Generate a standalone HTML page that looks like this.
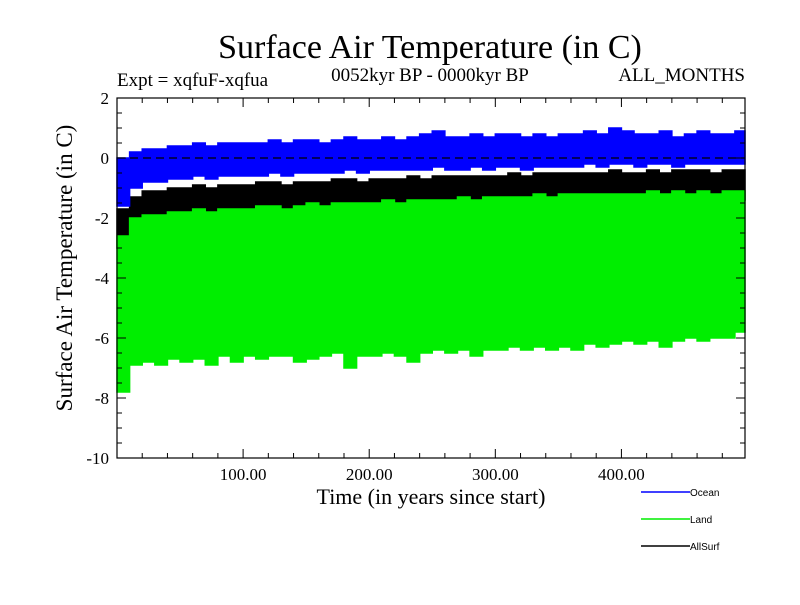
<!DOCTYPE html>
<html><head><meta charset="utf-8"><style>
body{margin:0;background:#fff;}
svg text{font-family:"Liberation Serif",serif;}
</style></head><body>
<svg width="800" height="600" id="c">
<text x="430" y="58" font-size="34" text-anchor="middle">Surface Air Temperature (in C)</text>
<text x="117" y="86" font-size="19">Expt = xqfuF-xqfua</text>
<text x="430" y="81" font-size="19" text-anchor="middle">0052kyr BP - 0000kyr BP</text>
<text x="745" y="81" font-size="19" text-anchor="end">ALL_MONTHS</text>
<text transform="translate(72,268) rotate(-90)" font-size="23" text-anchor="middle">Surface Air Temperature (in C)</text>
<text x="431" y="504" font-size="22" text-anchor="middle">Time (in years since start)</text>
<g id="plot"></g>
<g id="axes"></g>
<g id="legend"></g>
</svg>
<script>
const years=[0,10,20,30,40,50,60,70,80,90,100,110,120,130,140,150,160,170,180,190,200,210,220,230,240,250,260,270,280,290,300,310,320,330,340,350,360,370,380,390,400,410,420,430,440,450,460,470,480,490];
const oceanHi=[0.0,0.2,0.3,0.3,0.4,0.4,0.5,0.4,0.5,0.5,0.5,0.5,0.6,0.5,0.6,0.6,0.5,0.6,0.7,0.6,0.6,0.7,0.6,0.7,0.8,0.9,0.7,0.7,0.8,0.7,0.8,0.8,0.7,0.8,0.7,0.8,0.8,0.9,0.8,1.0,0.9,0.8,0.8,0.9,0.7,0.8,0.9,0.8,0.8,0.9];
const oceanLo=[-1.6,-1.0,-0.8,-0.8,-0.7,-0.7,-0.6,-0.7,-0.6,-0.6,-0.6,-0.6,-0.5,-0.6,-0.5,-0.5,-0.5,-0.5,-0.4,-0.5,-0.4,-0.4,-0.4,-0.4,-0.4,-0.3,-0.4,-0.4,-0.3,-0.4,-0.3,-0.3,-0.4,-0.3,-0.3,-0.3,-0.3,-0.2,-0.3,-0.2,-0.2,-0.3,-0.2,-0.2,-0.3,-0.2,-0.2,-0.2,-0.2,-0.2];
const allHi=[-1.7,-1.3,-1.1,-1.1,-1.0,-1.0,-0.9,-1.0,-0.9,-0.9,-0.9,-0.8,-0.8,-0.9,-0.8,-0.8,-0.8,-0.7,-0.7,-0.8,-0.7,-0.7,-0.7,-0.6,-0.7,-0.6,-0.6,-0.6,-0.6,-0.6,-0.6,-0.5,-0.6,-0.5,-0.5,-0.5,-0.5,-0.5,-0.5,-0.4,-0.5,-0.5,-0.4,-0.5,-0.4,-0.4,-0.4,-0.5,-0.4,-0.4];
const allLo=[-3.0,-2.6,-2.5,-2.4,-2.4,-2.3,-2.3,-2.2,-2.2,-2.2,-2.1,-2.1,-2.1,-2.0,-2.0,-2.0,-2.0,-1.9,-1.9,-1.9,-1.9,-1.8,-1.8,-1.8,-1.8,-1.8,-1.7,-1.7,-1.7,-1.7,-1.7,-1.6,-1.6,-1.6,-1.6,-1.6,-1.5,-1.5,-1.5,-1.5,-1.5,-1.5,-1.4,-1.4,-1.4,-1.4,-1.4,-1.4,-1.4,-1.4];
const landHi=[-2.6,-2.0,-1.9,-1.9,-1.8,-1.8,-1.7,-1.8,-1.7,-1.7,-1.7,-1.6,-1.6,-1.7,-1.6,-1.5,-1.6,-1.5,-1.5,-1.5,-1.5,-1.4,-1.5,-1.4,-1.4,-1.4,-1.4,-1.3,-1.4,-1.3,-1.3,-1.3,-1.3,-1.2,-1.3,-1.2,-1.2,-1.2,-1.2,-1.2,-1.2,-1.2,-1.1,-1.2,-1.1,-1.2,-1.1,-1.2,-1.1,-1.1];
const landLo=[-7.8,-6.9,-6.8,-6.9,-6.7,-6.8,-6.7,-6.9,-6.6,-6.8,-6.6,-6.7,-6.6,-6.6,-6.8,-6.7,-6.6,-6.5,-7.0,-6.6,-6.6,-6.5,-6.6,-6.8,-6.5,-6.4,-6.5,-6.4,-6.6,-6.4,-6.4,-6.3,-6.4,-6.3,-6.4,-6.3,-6.4,-6.2,-6.3,-6.2,-6.1,-6.2,-6.1,-6.3,-6.1,-6.0,-6.1,-6.0,-6.0,-5.8];
const xTicks=[100,200,300,400];
const yTicks=[2,0,-2,-4,-6,-8,-10];
const X0=117,X1=745,Y0=98,Y1=458,XMAX=498,YMIN=-10,YMAX=2;
const sx=v=>X0+v/XMAX*(X1-X0);
const sy=v=>Y0+(YMAX-v)/(YMAX-YMIN)*(Y1-Y0);
const NS='http://www.w3.org/2000/svg';
function mk(t,a,p){const e=document.createElementNS(NS,t);for(const k in a)e.setAttribute(k,a[k]);p.appendChild(e);return e;}
const plot=document.getElementById('plot'),axes=document.getElementById('axes'),leg=document.getElementById('legend');
function band(hi,lo,col,name){
  let pts=[];
  hi.forEach((v,i)=>{pts.push(sx(years[i])+','+sy(v));pts.push(sx(Math.min(years[i]+10,XMAX))+','+sy(v));});
  for(let i=lo.length-1;i>=0;i--){pts.push(sx(Math.min(years[i]+10,XMAX))+','+sy(lo[i]));pts.push(sx(years[i])+','+sy(lo[i]));}
  const p=mk('polygon',{points:pts.join(' '),fill:col,stroke:col,'stroke-width':1.5},plot);
  
  
}
band(allHi,allLo,'#000','allsurf-series');
band(landHi,landLo,'#00ee00','land-series');
band(oceanHi,oceanLo,'#0000ff','ocean-series');
const zl=mk('line',{x1:X0,x2:X1,y1:sy(0),y2:sy(0),stroke:'#000','stroke-dasharray':'8,5','stroke-width':1.2},plot);


const fr=mk('rect',{x:X0,y:Y0,width:X1-X0,height:Y1-Y0,fill:'none',stroke:'#000','stroke-width':1.2},axes);


for(let v=20;v<XMAX;v+=20){const L=v%100===0?9:5;
  mk('line',{x1:sx(v),x2:sx(v),y1:Y1,y2:Y1-L,stroke:'#000'},axes);
  mk('line',{x1:sx(v),x2:sx(v),y1:Y0,y2:Y0+L,stroke:'#000'},axes);}
for(let v=-9.5;v<2;v+=0.5){const L=Math.abs(v%2)<1e-9?9:5;
  mk('line',{x1:X0,x2:X0+L,y1:sy(v),y2:sy(v),stroke:'#000'},axes);
  mk('line',{x1:X1,x2:X1-L,y1:sy(v),y2:sy(v),stroke:'#000'},axes);}
xTicks.forEach(v=>{const t=mk('text',{x:sx(v),y:Y1+22,'font-size':17,'text-anchor':'middle'},axes);t.textContent=v.toFixed(2);
  
  });
yTicks.forEach(v=>{const t=mk('text',{x:X0-8,y:sy(v)+6,'font-size':17,'text-anchor':'end'},axes);t.textContent=v;
  
  });
[['Ocean','#0000ff',492],['Land','#00ee00',519],['AllSurf','#000',546]].forEach(([n,c,y])=>{
  const g=mk('g',{},leg);
  
  
  mk('line',{x1:641,x2:690,y1:y,y2:y,stroke:c,'stroke-width':1.5},g);
  const t=mk('text',{x:690,y:y+4,'font-size':10,style:'font-family:Liberation Sans,sans-serif'},g);t.textContent=n;});
</script>
</body></html>
